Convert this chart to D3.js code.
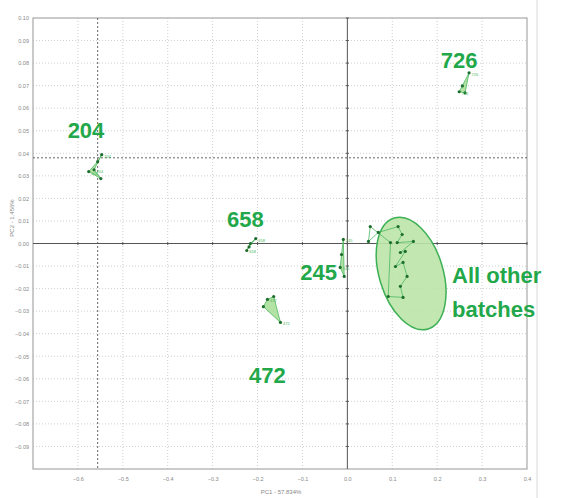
<!DOCTYPE html>
<html>
<head>
<meta charset="utf-8">
<script src="https://cdn.jsdelivr.net/npm/d3@7"></script>
<style>
  body { margin: 0; background: #fff; }
  svg { display: block; font-family: "Liberation Sans", Arial, sans-serif; }
</style>
</head>
<body>
<svg></svg>
<script>
// ticks
let xTicks = [-0.6, -0.5, -0.4, -0.3, -0.2, -0.1, 0.0, 0.1, 0.2, 0.3, 0.4]
let yTicks = [0.10, 0.09, 0.08, 0.07, 0.06, 0.05, 0.04, 0.03, 0.02, 0.01, 0.00,
              -0.01, -0.02, -0.03, -0.04, -0.05, -0.06, -0.07, -0.08, -0.09]

// batch clusters, [PC1, PC2]
let batch204 = [[-0.547, 0.0394], [-0.556, 0.0363], [-0.576, 0.0319], [-0.549, 0.0288], [-0.564, 0.0327]]
let batch658 = [[-0.204, 0.0022], [-0.216, 0.0000], [-0.224, -0.0031], [-0.219, -0.0015]]
let batch472 = [[-0.178, -0.0248], [-0.164, -0.0235], [-0.149, -0.0350], [-0.187, -0.0280]]
let batch245 = [[-0.009, 0.0018], [-0.013, -0.0049], [-0.016, -0.0106], [-0.007, -0.0146]]
let batch726 = [[0.271, 0.0757], [0.256, 0.0699], [0.249, 0.0673], [0.262, 0.0668]]
let batchOther = [[0.051, 0.0075], [0.047, 0.0009], [0.069, 0.0049], [0.113, 0.0075], [0.122, 0.0040],
                  [0.111, 0.0004], [0.147, 0.0009], [0.118, -0.0040], [0.129, -0.0035], [0.107, -0.0102],
                  [0.124, -0.0084], [0.133, -0.0146], [0.118, -0.0190], [0.124, -0.0239], [0.091, -0.0235],
                  [0.096, 0.0004]]

// big labels: text, PC1, PC2 (baseline)
let labelNames = ['204', '658', '245', '472', '726']
let labelX = [-0.582, -0.227, -0.064, -0.178, 0.249]
let labelY = [0.0469, 0.0075, -0.0164, -0.0619, 0.0779]
let otherLines = ['All other', 'batches']
let otherX = 0.233
let otherY = [-0.0173, -0.0327]

// ellipse round the other batches: cx, cy, rx (PC1 units), ry (PC2 units)
let ellipseData = [0.142, -0.0133, 0.071, 0.0257]
let refX = -0.556
let refY = 0.038

let width = 561
let height = 498
let mLeft = 33, mRight = 527, mTop = 18, mBottom = 469

let svg = d3.select('svg').attr('width', width).attr('height', height)

let xScale = d3.scaleLinear().domain([-0.7, 0.4]).range([mLeft, mRight])
let yScale = d3.scaleLinear().domain([-0.1, 0.1]).range([mBottom, mTop])

let green = '#22a84a'

// outer frame line
svg.append('line')
  .attr('x1', 537).attr('x2', 537).attr('y1', 0).attr('y2', height)
  .attr('stroke', '#d8d8d8')

// grid
svg.append('g').selectAll('line')
  .data(xTicks.filter(d => d != 0 && d != 0.4))
  .enter().append('line')
  .attr('x1', d => xScale(d)).attr('x2', d => xScale(d))
  .attr('y1', mTop).attr('y2', mBottom)
  .attr('stroke', '#cfcfcf').attr('stroke-dasharray', '1,2')

svg.append('g').selectAll('line')
  .data(yTicks.filter(d => d != 0 && d != 0.1))
  .enter().append('line')
  .attr('x1', mLeft).attr('x2', mRight)
  .attr('y1', d => yScale(d)).attr('y2', d => yScale(d))
  .attr('stroke', '#cfcfcf').attr('stroke-dasharray', '1,2')

// frame
svg.append('rect')
  .attr('x', mLeft).attr('y', mTop)
  .attr('width', mRight - mLeft).attr('height', mBottom - mTop)
  .attr('fill', 'none').attr('stroke', '#a8a8a8').attr('stroke-width', 1.2)

// axes
let xAxis = d3.axisBottom(xScale).tickValues(xTicks).tickSize(0).tickPadding(8)
  .tickFormat(d3.format('.1f'))
let gx = svg.append('g').attr('transform', 'translate(0,' + mBottom + ')').call(xAxis)
gx.select('.domain').remove()
gx.selectAll('text').attr('fill', '#888').style('font-size', '5.5px')

let yAxis = d3.axisLeft(yScale).tickValues(yTicks).tickSize(0).tickPadding(4)
  .tickFormat(d3.format('.2f'))
let gy = svg.append('g').attr('transform', 'translate(' + mLeft + ',0)').call(yAxis)
gy.select('.domain').remove()
gy.selectAll('text').attr('fill', '#888').style('font-size', '5.5px')

svg.append('text')
  .attr('x', 281).attr('y', 494)
  .attr('text-anchor', 'middle')
  .attr('fill', '#888').style('font-size', '6px')
  .text('PC1 - 57.834%')

svg.append('text')
  .attr('transform', 'translate(14,218) rotate(-90)')
  .attr('text-anchor', 'middle')
  .attr('fill', '#888').style('font-size', '6px')
  .text('PC2 - 1.456%')

// reference dotted lines
svg.append('line')
  .attr('x1', xScale(refX)).attr('x2', xScale(refX))
  .attr('y1', mTop).attr('y2', mBottom)
  .attr('stroke', '#666').attr('stroke-dasharray', '2,2')
svg.append('line')
  .attr('x1', mLeft).attr('x2', mRight)
  .attr('y1', yScale(refY)).attr('y2', yScale(refY))
  .attr('stroke', '#666').attr('stroke-dasharray', '2,2')

// zero crosshair
svg.append('line')
  .attr('x1', xScale(0)).attr('x2', xScale(0))
  .attr('y1', mTop).attr('y2', mBottom)
  .attr('stroke', '#555')
svg.append('line')
  .attr('x1', mLeft).attr('x2', mRight)
  .attr('y1', yScale(0)).attr('y2', yScale(0))
  .attr('stroke', '#555')

// small ticks on crosshair
svg.append('g').selectAll('line')
  .data(xTicks)
  .enter().append('line')
  .attr('x1', d => xScale(d)).attr('x2', d => xScale(d))
  .attr('y1', yScale(0) - 1.5).attr('y2', yScale(0) + 1.5)
  .attr('stroke', '#555')
svg.append('g').selectAll('line')
  .data(yTicks)
  .enter().append('line')
  .attr('x1', xScale(0) - 1.5).attr('x2', xScale(0) + 1.5)
  .attr('y1', d => yScale(d)).attr('y2', d => yScale(d))
  .attr('stroke', '#555')

// ellipse
let ex = xScale(ellipseData[0]), ey = yScale(ellipseData[1])
let erx = xScale(ellipseData[0] + ellipseData[2]) - ex
let ery = ey - yScale(ellipseData[1] + ellipseData[3])
svg.append('ellipse')
  .attr('cx', ex).attr('cy', ey)
  .attr('rx', erx).attr('ry', ery)
  .attr('transform', 'rotate(-17,' + ex + ',' + ey + ')')
  .attr('fill', '#bde4a8').attr('fill-opacity', 0.9)
  .attr('stroke', '#3cb054').attr('stroke-width', 1.5)

// clusters
let clusters = [
  {name: '204', pts: batch204},
  {name: '658', pts: batch658},
  {name: '472', pts: batch472},
  {name: '245', pts: batch245},
  {name: '726', pts: batch726},
  {name: '', pts: batchOther}
]

let line = d3.line().x(d => xScale(d[0])).y(d => yScale(d[1]))

clusters.forEach(c => {
  let g = svg.append('g')
  g.append('path')
    .attr('d', line(c.pts) + 'Z')
    .attr('fill', c.name ? '#9fdc8e' : 'none')
    .attr('fill-opacity', 0.8)
    .attr('stroke', '#4cb860').attr('stroke-width', 0.8)
  g.selectAll('circle')
    .data(c.pts)
    .enter().append('circle')
    .attr('cx', d => xScale(d[0]))
    .attr('cy', d => yScale(d[1]))
    .attr('r', 1.6)
    .attr('fill', '#1d6e2e')
  if (c.name) {
    // tiny point labels on every other point
    g.selectAll('text')
      .data(c.pts.filter((d, i) => i % 2 == 0))
      .enter().append('text')
      .attr('x', d => xScale(d[0]) + 2.5)
      .attr('y', d => yScale(d[1]) + 3)
      .attr('fill', '#4cb860')
      .style('font-size', '4px')
      .text(c.name)
  }
})

// big labels
svg.append('g').selectAll('text')
  .data(labelNames)
  .enter().append('text')
  .attr('x', (d, i) => xScale(labelX[i]))
  .attr('y', (d, i) => yScale(labelY[i]))
  .attr('text-anchor', 'middle')
  .attr('fill', green)
  .style('font-size', '22px').style('font-weight', 'bold')
  .text(d => d)

svg.append('g').selectAll('text')
  .data(otherLines)
  .enter().append('text')
  .attr('x', xScale(otherX))
  .attr('y', (d, i) => yScale(otherY[i]))
  .attr('fill', green)
  .style('font-size', '22px').style('font-weight', 'bold')
  .text(d => d)
</script>
</body>
</html>
